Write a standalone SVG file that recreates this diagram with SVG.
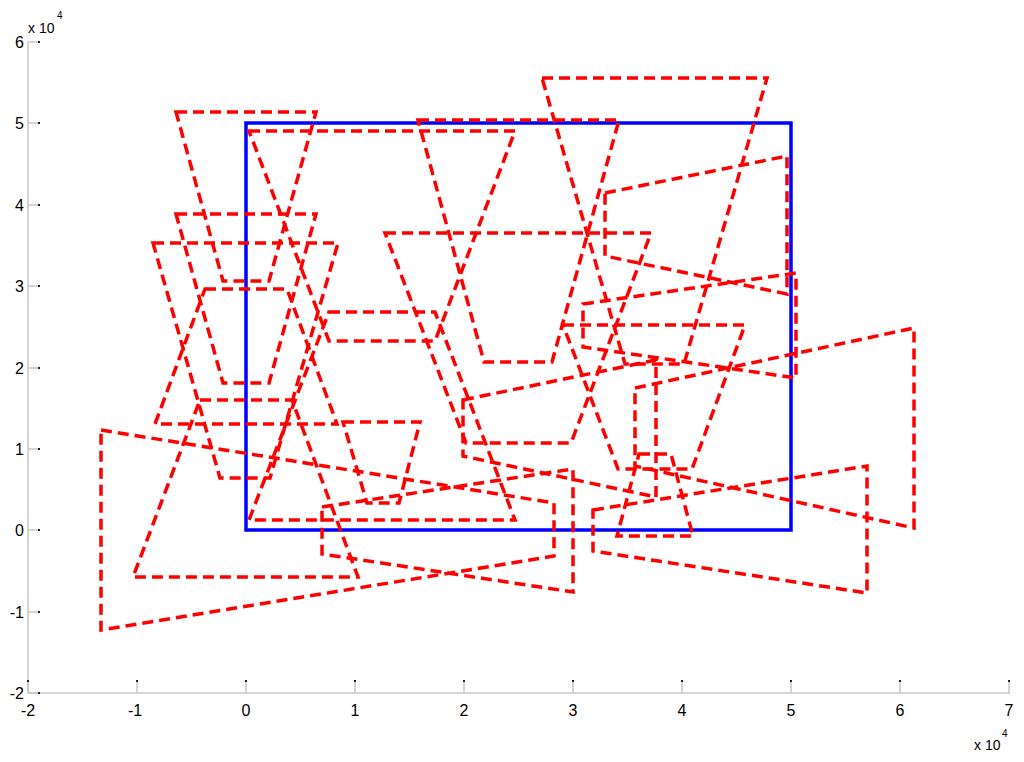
<svg xmlns="http://www.w3.org/2000/svg" width="1024" height="762" viewBox="0 0 1024 762">
<style>
.ax{stroke:#c8c8c8;stroke-width:1.5;fill:none}
.tk{stroke:#c8c8c8;stroke-width:1.5}
.td{fill:#222}
.lb{font-family:"Liberation Sans",Arial,sans-serif;font-size:16px;fill:#000}
.ex{font-family:"Liberation Sans",Arial,sans-serif;font-size:14px;fill:#000}
.sp{font-family:"Liberation Sans",Arial,sans-serif;font-size:10px;fill:#000}
.r{fill:none;stroke:#ff0000;stroke-width:3.5;stroke-dasharray:11 6;stroke-linejoin:miter}
.b{fill:none;stroke:#0000ff;stroke-width:3.5}
</style>
<rect width="1024" height="762" fill="#ffffff"/>
<g id="axes">
<path class="ax" d="M28,42 V693 H1010"/>
<g id="yticks">
<path class="tk" d="M28,42 H39 M28,123 H39 M28,205 H39 M28,286 H39 M28,368 H39 M28,449 H39 M28,530 H39 M28,612 H39 M28,693 H39"/>
<rect class="td" x="38" y="41" width="2" height="2"/><rect class="td" x="38" y="122" width="2" height="2"/>
<rect class="td" x="38" y="204" width="2" height="2"/><rect class="td" x="38" y="285" width="2" height="2"/>
<rect class="td" x="38" y="367" width="2" height="2"/><rect class="td" x="38" y="448" width="2" height="2"/>
<rect class="td" x="38" y="529" width="2" height="2"/><rect class="td" x="38" y="611" width="2" height="2"/>
<rect class="td" x="38" y="692" width="2" height="2"/>
</g>
<g id="xticks">
<path class="tk" d="M28,693 V681 M137,693 V681 M246,693 V681 M355,693 V681 M464,693 V681 M573,693 V681 M682,693 V681 M791,693 V681 M900,693 V681 M1009,693 V681"/>
<rect class="td" x="27" y="680" width="2" height="2"/><rect class="td" x="136" y="680" width="2" height="2"/>
<rect class="td" x="245" y="680" width="2" height="2"/><rect class="td" x="354" y="680" width="2" height="2"/>
<rect class="td" x="463" y="680" width="2" height="2"/><rect class="td" x="572" y="680" width="2" height="2"/>
<rect class="td" x="681" y="680" width="2" height="2"/><rect class="td" x="790" y="680" width="2" height="2"/>
<rect class="td" x="899" y="680" width="2" height="2"/><rect class="td" x="1008" y="680" width="2" height="2"/>
</g>
<g id="ylabels" class="lb" text-anchor="end">
<text x="24" y="48">6</text><text x="24" y="129">5</text><text x="24" y="211">4</text>
<text x="24" y="292">3</text><text x="24" y="374">2</text><text x="24" y="455">1</text>
<text x="24" y="536">0</text><text x="24" y="618">-1</text><text x="24" y="699">-2</text>
</g>
<g id="xlabels" class="lb" text-anchor="middle">
<text x="28" y="716">-2</text><text x="135" y="716">-1</text><text x="246" y="716">0</text>
<text x="355" y="716">1</text><text x="464" y="716">2</text><text x="573" y="716">3</text>
<text x="682" y="716">4</text><text x="791" y="716">5</text><text x="900" y="716">6</text>
<text x="1009" y="716">7</text>
</g>
<g id="yexp"><text class="ex" x="28" y="33">x 10</text><text class="sp" x="57" y="19">4</text></g>
<g id="xexp"><text class="ex" x="974" y="750">x 10</text><text class="sp" x="1002" y="737">4</text></g>
</g>
<g id="region">
<rect class="b" x="246" y="123" width="545" height="407"/>
</g>
<g id="shapes">
<polygon id="sA" class="r" points="176,112 316,112 269,281 223,281"/>
<polygon id="sB" class="r" points="249,131 515,131 435,341 329,341"/>
<polygon id="sC" class="r" points="176,214 316,214 269,383 223,383"/>
<polygon id="sD" class="r" points="205,289 287,289 337,424 155,424"/>
<polygon id="sE" class="r" points="153,243 338,243 270,478 220,478"/>
<polygon id="sF" class="r" points="200,400 292,400 358,577 133,577"/>
<polygon id="sG" class="r" points="101,430 554,503 554,556 101,630"/>
<polygon id="sH" class="r" points="322,507 573,469 573,592 322,554"/>
<polygon id="sI" class="r" points="343,422 420,422 399,503 367,503"/>
<polygon id="sB2" class="r" points="329,312 435,312 515,520 249,520"/>
<polygon id="sJ" class="r" points="418,120 619,120 552,362 484,362"/>
<polygon id="sK" class="r" points="385,233 651,233 571,443 466,443"/>
<polygon id="sL" class="r" points="542,78 767,78 684,364 625,364"/>
<polygon id="sN" class="r" points="605,193 787,156 787,294 605,256"/>
<polygon id="sO" class="r" points="583,304 796,273 796,378 583,347"/>
<polygon id="sP" class="r" points="563,325 745,325 692,469 618,469"/>
<polygon id="sQ" class="r" points="639,454 671,454 693,536 617,536"/>
<polygon id="sR" class="r" points="635,388 914,328 914,528 635,466"/>
<polygon id="sS" class="r" points="463,400 656,360 656,497 463,456"/>
<polygon id="sT" class="r" points="593,510 867,466 867,593 593,551"/>
</g>
</svg>
